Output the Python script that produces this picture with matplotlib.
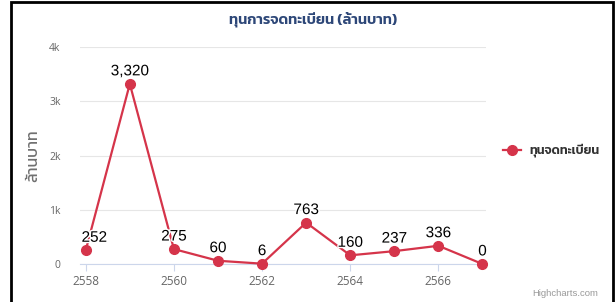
import matplotlib
matplotlib.use("Agg")
import matplotlib.pyplot as plt
import matplotlib.patheffects as pe

years = [2558, 2559, 2560, 2561, 2562, 2563, 2564, 2565, 2566, 2567]
values = [252, 3320, 275, 60, 6, 763, 160, 237, 336, 0]
labels = ["252", "3,320", "275", "60", "6", "763", "160", "237", "336", "0"]
xticks = [2558, 2560, 2562, 2564, 2566]
yticks = [0, 1000, 2000, 3000, 4000]
ytick_labels = ["0", "1k", "2k", "3k", "4k"]
title = "ทุนการจดทะเบียน (ล้านบาท)"
ylabel = "ล้านบาท"
series_name = "ทุนจดทะเบียน"

THAI = ["Kanit", "DejaVu Sans"]
plt.rcParams['font.family'] = THAI

W, H = 616, 302
fig = plt.figure(figsize=(W / 100, H / 100), dpi=100)
ax = fig.add_axes([80 / W, (H - 264) / H, 406 / W, (264 - 47) / H])

line_color = "#d5344a"
ax.plot(years, values, color=line_color, lw=1.6, marker="o", ms=7, zorder=3, clip_on=False)
for i, (x, y, t) in enumerate(zip(years, values, labels)):
    if i == 0:
        ha, dx = "left", -3
    else:
        ha, dx = "center", 0
    ax.annotate(t, (x, y), xytext=(dx, 4), textcoords="offset points", ha=ha, va="bottom",
                fontsize=11, color="black", family=["Liberation Sans"],
                path_effects=[pe.withStroke(linewidth=2, foreground="white")], zorder=4)

ax.set_xlim(2557.87, 2567.08)
ax.set_ylim(0, 4000)
ax.set_yticks(yticks)
ax.set_yticklabels(ytick_labels)
ax.set_xticks(xticks)
ax.grid(axis="y", color="#e6e6e6", lw=0.8)
ax.set_axisbelow(True)
for s in ["top", "right", "left"]:
    ax.spines[s].set_visible(False)
ax.spines["bottom"].set_color("#ccd6eb")
ax.tick_params(axis="y", length=0, labelsize=7.5, labelcolor="#666666", pad=14)
ax.tick_params(axis="x", length=5, color="#ccd6eb", labelsize=8.5, labelcolor="#666666", pad=3)
for lab in ax.get_xticklabels() + ax.get_yticklabels():
    lab.set_family(["Open Sans"])
ax.set_ylabel(ylabel, fontsize=11.5, color="#707070", labelpad=6, fontweight="normal")

fig.text(313 / W, (H - 19) / H, title, ha="center", va="center", fontsize=10.5, fontweight="semibold",
         color="#2d4778")

# legend
lx0, lx1, ly = 503 / W, 521 / W, (H - 150) / H
fig.add_artist(plt.Line2D([lx0, lx1], [ly, ly], color=line_color, lw=1.6, transform=fig.transFigure))
fig.add_artist(plt.Line2D([(lx0 + lx1) / 2], [ly], color=line_color, marker="o", ms=7, transform=fig.transFigure))
fig.text(529 / W, ly, series_name, ha="left", va="center", fontsize=9, fontweight="semibold", color="#333333")

fig.text(598 / W, (H - 293) / H, "Highcharts.com", ha="right", va="center", fontsize=6.8,
         color="#999999", family=["Liberation Sans"])

# frame
fig.add_artist(plt.Rectangle((11 / W, -0.01), (613 - 11) / W, (H - 1.5) / H + 0.01, fill=False,
                             ec="black", lw=2, transform=fig.transFigure))

fig.savefig("out.png", dpi=100)
